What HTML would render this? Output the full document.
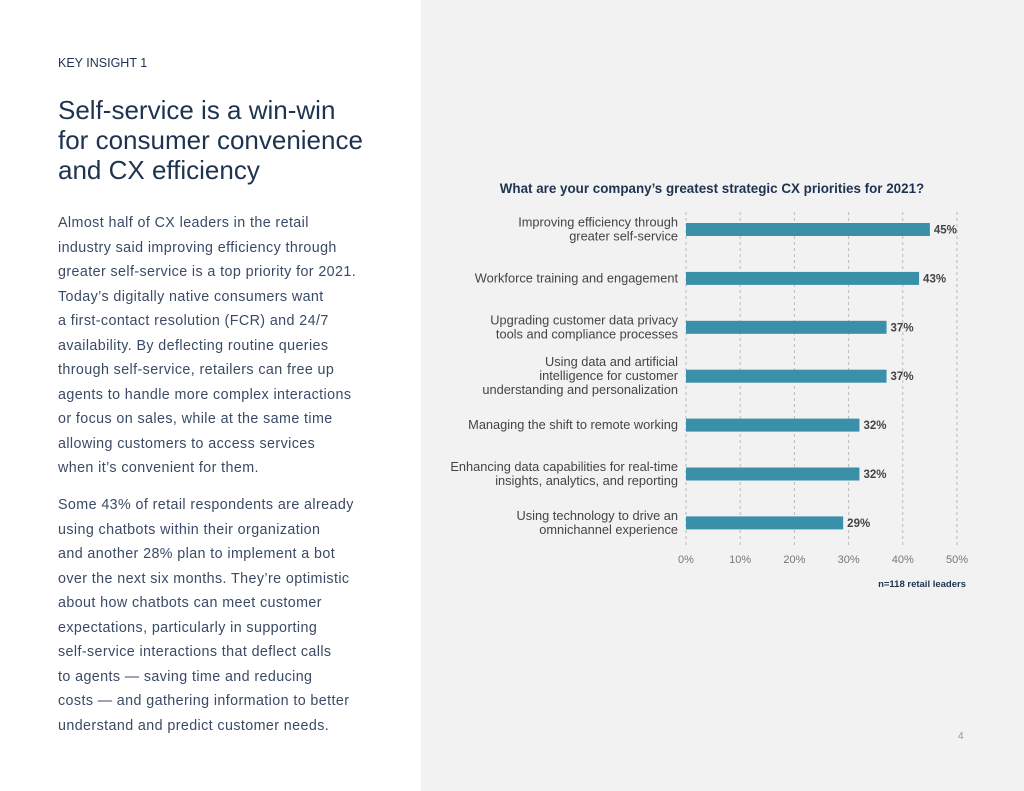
<!DOCTYPE html>
<html><head><meta charset="utf-8"><style>
body{margin:0;width:1024px;height:791px;position:relative;font-family:"Liberation Sans",sans-serif;background:#fff;overflow:hidden}
.left{position:absolute;left:0;top:0;width:421px;height:791px;background:#fff}
.right{position:absolute;left:421px;top:0;width:603px;height:791px;background:#f2f2f2}
.kicker{position:absolute;left:58px;top:56px;font-size:12.5px;color:#1e3350}
h1{position:absolute;left:58px;top:95px;margin:0;font-weight:normal;font-size:26px;line-height:30px;color:#1e3350;white-space:nowrap}
.p{position:absolute;left:58px;font-size:14.3px;line-height:24.5px;color:#3a4a66;white-space:nowrap;letter-spacing:0.4px}
.pg{position:absolute;left:958px;top:731px;font-size:10px;color:#999}
</style></head><body>
<div class="left">
<div class="kicker">KEY INSIGHT 1</div>
<h1>Self-service is a win-win<br>for consumer convenience<br>and CX efficiency</h1>
<div class="p" style="top:211px">Almost half of CX leaders in the retail<br>industry said improving efficiency through<br>greater self-service is a top priority for 2021.<br>Today’s digitally native consumers want<br>a first-contact resolution (FCR) and 24/7<br>availability. By deflecting routine queries<br>through self-service, retailers can free up<br>agents to handle more complex interactions<br>or focus on sales, while at the same time<br>allowing customers to access services<br>when it’s convenient for them.</div>
<div class="p" style="top:493px">Some 43% of retail respondents are already<br>using chatbots within their organization<br>and another 28% plan to implement a bot<br>over the next six months. They’re optimistic<br>about how chatbots can meet customer<br>expectations, particularly in supporting<br>self-service interactions that deflect calls<br>to agents — saving time and reducing<br>costs — and gathering information to better<br>understand and predict customer needs.</div>
</div>
<div class="right"></div>
<svg id="chart" width="1024" height="791" style="position:absolute;left:0;top:0"></svg>
<div class="pg">4</div>
<script>
const categories=[["Improving efficiency through","greater self-service"],["Workforce training and engagement"],["Upgrading customer data privacy","tools and compliance processes"],["Using data and artificial","intelligence for customer","understanding and personalization"],["Managing the shift to remote working"],["Enhancing data capabilities for real-time","insights, analytics, and reporting"],["Using technology to drive an","omnichannel experience"]];
const values=[45,43,37,37,32,32,29];
const ticks=[0,10,20,30,40,50];
const NS="http://www.w3.org/2000/svg";
const svg=document.getElementById('chart');
const x=v=>686+v*5.42;
const y=i=>229.5+i*48.9;
function el(t,a,txt){const e=document.createElementNS(NS,t);for(const k in a)e.setAttribute(k,a[k]);if(txt!=null)e.textContent=txt;svg.appendChild(e);return e;}
const title=el('text',{x:712,y:193,'text-anchor':'middle','font-size':13.4,'font-weight':'bold',fill:'#1e3350','font-family':'Liberation Sans, sans-serif'},"What are your company’s greatest strategic CX priorities for 2021?");


ticks.forEach(t=>{
  const g=el('line',{x1:x(t),x2:x(t),y1:212,y2:545,stroke:'#bbb','stroke-dasharray':'3,3','stroke-width':1});
  
  
  const l=el('text',{x:x(t),y:563,'text-anchor':'middle','font-size':11,fill:'#777','font-family':'Liberation Sans, sans-serif'},t+'%');
  
  
});
values.forEach((v,i)=>{
  const cy=y(i);
  const b=el('rect',{x:x(0),y:cy-6.5,width:x(v)-x(0),height:13,fill:'#3a8fa9'});
  
  
  const vl=el('text',{x:x(v)+4,y:cy+4,'font-size':11.5,'font-weight':'bold',fill:'#444','font-family':'Liberation Sans, sans-serif'},v+'%');
  
  
  const lines=categories[i];const n=lines.length;
  lines.forEach((s,j)=>{
    const c=el('text',{x:678,y:cy+4+(j-(n-1)/2)*14,'text-anchor':'end','font-size':12.8,fill:'#444','font-family':'Liberation Sans, sans-serif'},s);
    
    
  });
});
const n=el('text',{x:966,y:587,'text-anchor':'end','font-size':9.5,'font-weight':'bold',fill:'#1e3350','font-family':'Liberation Sans, sans-serif'},'n=118 retail leaders');


</script>
</body></html>
